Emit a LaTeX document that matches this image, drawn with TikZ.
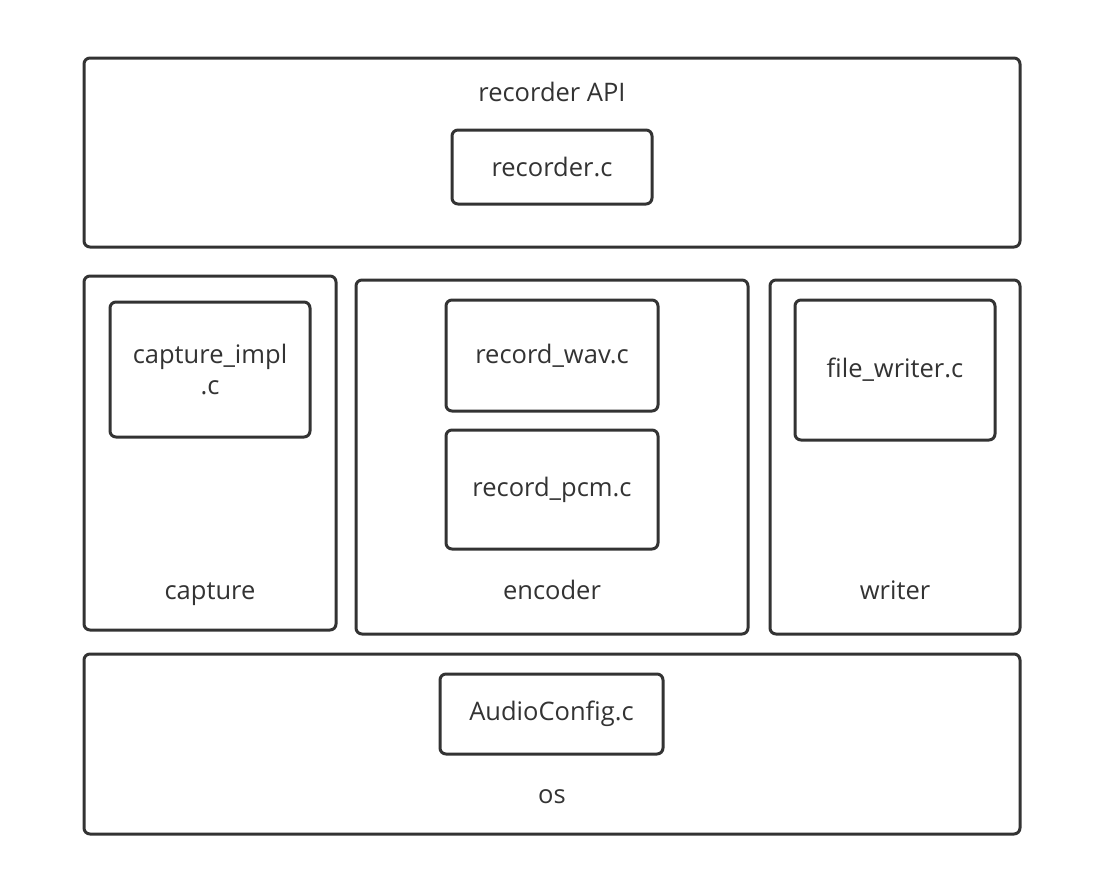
\documentclass[tikz,border=0pt]{standalone}
\usepackage{fontspec}
\setmainfont{Open Sans}
\usepackage{tikz}

\definecolor{edge}{HTML}{333333}

\begin{document}
\begin{tikzpicture}[x=1pt, y=-1pt,
        layer/.style={draw=edge, line width=3pt, rounded corners=6pt, inner sep=0pt},
        srcfile/.style={draw=edge, line width=3pt, rounded corners=6pt, inner sep=0pt, align=center, text=edge},
        caption/.style={text=edge, anchor=base},
        every node/.style={font=\fontsize{25.5}{31}\selectfont}]
        \useasboundingbox (0, 0) rectangle (1105, 884);

        % outer layers
        \node[layer, minimum width=936pt, minimum height=189pt] (api) at (552, 152.5) {};
        \node[layer, minimum width=252pt, minimum height=354pt] (capture) at (210, 453) {};
        \node[layer, minimum width=392pt, minimum height=354pt] (encoder) at (552, 457) {};
        \node[layer, minimum width=250pt, minimum height=354pt] (writer) at (895, 457) {};
        \node[layer, minimum width=936pt, minimum height=180pt] (os) at (552, 744) {};

        % source files
        \node[srcfile, minimum width=200pt, minimum height=74pt] (recorder) at (552, 167) {recorder.c};
        \node[srcfile, minimum width=200pt, minimum height=135pt] (impl) at (210, 369.5) {capture\_impl\\.c};
        \node[srcfile, minimum width=212pt, minimum height=111pt] (wav) at (552, 355.5) {record\_wav.c};
        \node[srcfile, minimum width=212pt, minimum height=119pt] (pcm) at (552, 489.5) {record\_pcm.c};
        \node[srcfile, minimum width=200pt, minimum height=140pt] (filewriter) at (895, 370) {file\_writer.c};
        \node[srcfile, minimum width=223pt, minimum height=80pt] (audioconfig) at (551.5, 714) {AudioConfig.c};

        % layer names
        \node[caption] (apiname) at (552, 101) {recorder API};
        \node[caption] (capturename) at (210, 599) {capture};
        \node[caption] (encodername) at (552, 599) {encoder};
        \node[caption] (writername) at (895, 599) {writer};
        \node[caption] (osname) at (552, 803) {os};
\end{tikzpicture}
\end{document}
